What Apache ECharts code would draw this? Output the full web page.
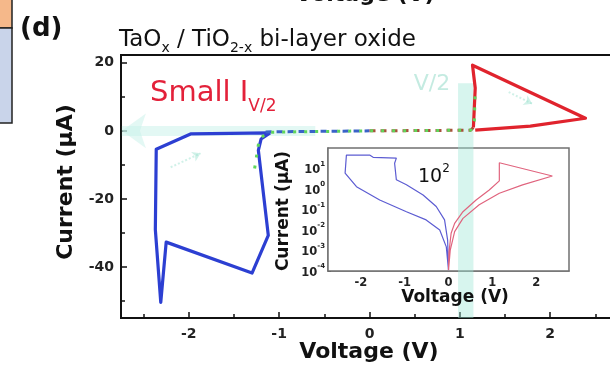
<!DOCTYPE html>
<html><head><meta charset="utf-8">
<script src="https://cdn.jsdelivr.net/npm/echarts@6/dist/echarts.min.js"></script>
<style>html,body{margin:0;padding:0;background:#fff}#c{width:610px;height:369px}</style>
</head><body><div id="c"></div>
<script>
// ---------- data ----------
const mainXTicks = [-2, -1, 0, 1, 2];
const mainXMinor = [-2.5, -1.5, -0.5, 0.5, 1.5, 2.5];
const mainYTicks = [20, 0, -20, -40];
const mainYMinor = [10, -10, -30, -50];
const insetXTicks = [-2, -1, 0, 1, 2];
const insetXMinor = [-2.5, -1.5, -0.5, 0.5, 1.5, 2.5];
const insetYTicks = [1e-4, 1e-3, 1e-2, 1e-1, 1, 10, 100];

// main I-V (voltage V, current uA)
const blueLoop = [[-1.10,-0.6],[-1.98,-0.9],[-2.36,-5.4],[-2.37,-29],[-2.31,-50.4],[-2.25,-32.7],[-1.30,-41.8],[-1.12,-30.7],[-1.23,-5.7],[-1.20,-2.4],[-1.10,-0.6]];
const blueDash = [[-1.15,-0.3],[0,0]];
const redDash = [[0,0],[1.12,0.2],[1.15,1.0]];
const redLoop = [[1.15,1.0],[1.17,12.6],[1.14,19.3],[2.39,3.7],[1.78,1.4],[1.17,0.2]];
const greenDots = [[-1.28,-12.5],[-1.22,-2.4],[-1.12,-0.4],[0,0],[1.12,0.2],[1.16,3],[1.17,12]];
const bandV = [0.98, 1.15];
const bandI = [14, -55];
const bigArrow = [[-0.6, 0], [-2.74, 0]];
const loopArrowBlue = [[-2.2, -10.7], [-1.87, -6.6]];
const loopArrowRed = [[1.54, 11.4], [1.80, 8.0]];

// inset (log current)
const insetBlue = [[0,1.1e-4],[-0.05,0.0015],[-0.2,0.01],[-0.51,0.031],[-0.96,0.078],[-1.57,0.29],[-2.10,1.3],[-2.36,5.9],[-2.33,45],[-1.80,45],[-1.72,35],[-1.19,32],[-1.23,18],[-1.19,2.8],[-0.96,1.6],[-0.58,0.51],[-0.28,0.14],[-0.09,0.031],[-0.02,0.0032],[0,1.1e-4]];
const insetRed = [[0,1.1e-4],[0.01,0.0008],[0.06,0.0069],[0.14,0.021],[0.33,0.078],[0.63,0.29],[0.93,0.89],[1.16,2.5],[1.16,19],[2.37,4.3],[1.69,1.6],[1.16,0.62],[0.70,0.17],[0.33,0.037],[0.14,0.0083],[0.04,0.00105],[0,1.1e-4]];

// ---------- chart ----------
const F = 'DejaVu Sans';
const chart = echarts.init(document.getElementById('c'), null, {renderer: 'canvas'});
const lineBase = {type: 'line', showSymbol: false, symbol: 'none', animation: false, silent: true, clip: false};
const XMIN = -2.75, XMAX = 2.75;

const option = {
  animation: false,
  backgroundColor: '#fff',
  grid: [
    {left: 121, top: 55, width: 497, height: 263, outerBoundsMode: 'none', containLabel: false, show: true, borderColor: '#111', borderWidth: 2, backgroundColor: 'transparent'},
    {left: 328, top: 148, width: 241, height: 123, outerBoundsMode: 'none', containLabel: false, show: true, borderColor: '#707070', borderWidth: 1.5, backgroundColor: '#fff', z: 1}
  ],
  xAxis: [
    {gridIndex: 0, type: 'value', min: XMIN, max: XMAX, position: 'bottom',
      axisLine: {show: true, onZero: false, lineStyle: {color: '#111', width: 2}},
      axisTick: {show: true, inside: true, length: 6, customValues: mainXTicks, lineStyle: {color: '#111', width: 1.5}},
      axisLabel: {customValues: mainXTicks, margin: 9, fontFamily: F, fontWeight: 'bold', fontSize: 14, color: '#222'},
      splitLine: {show: false}},
    {gridIndex: 0, type: 'value', min: XMIN, max: XMAX, position: 'bottom',
      axisLine: {show: false, onZero: false},
      axisTick: {show: true, inside: true, length: 4, customValues: mainXMinor, lineStyle: {color: '#111', width: 1.5}},
      axisLabel: {show: false}, splitLine: {show: false}},
    {gridIndex: 1, type: 'value', min: -2.75, max: 2.75, position: 'bottom',
      axisLine: {show: true, onZero: false, lineStyle: {color: '#707070', width: 1.5}},
      axisTick: {show: true, inside: true, length: 4, customValues: insetXTicks, lineStyle: {color: '#555', width: 1}},
      axisLabel: {customValues: insetXTicks, margin: 6, fontFamily: F, fontWeight: 'bold', fontSize: 11.5, color: '#222'},
      splitLine: {show: false}},
    {gridIndex: 1, type: 'value', min: -2.75, max: 2.75, position: 'bottom',
      axisLine: {show: false, onZero: false},
      axisTick: {show: true, inside: true, length: 2.5, customValues: insetXMinor, lineStyle: {color: '#555', width: 1}},
      axisLabel: {show: false}, splitLine: {show: false}}
  ],
  yAxis: [
    {gridIndex: 0, type: 'value', min: -55, max: 22.3, position: 'left',
      axisLine: {show: true, onZero: false, lineStyle: {color: '#111', width: 2}},
      axisTick: {show: true, inside: true, length: 6, customValues: mainYTicks, lineStyle: {color: '#111', width: 1.5}},
      axisLabel: {customValues: mainYTicks, margin: 7, fontFamily: F, fontWeight: 'bold', fontSize: 14, color: '#222'},
      splitLine: {show: false}},
    {gridIndex: 0, type: 'value', min: -55, max: 22.3, position: 'left',
      axisLine: {show: false, onZero: false},
      axisTick: {show: true, inside: true, length: 4, customValues: mainYMinor, lineStyle: {color: '#111', width: 1.5}},
      axisLabel: {show: false}, splitLine: {show: false}},
    {gridIndex: 1, type: 'log', logBase: 10, min: 1e-4, max: 100, position: 'left',
      axisLine: {show: true, onZero: false, lineStyle: {color: '#707070', width: 1.5}},
      axisTick: {show: true, inside: true, length: 3, customValues: insetYTicks, lineStyle: {color: '#555', width: 1}},
      axisLabel: {customValues: insetYTicks.slice(0, 6), margin: 3, color: '#222',
        formatter: function (v) { const e = Math.round(Math.log10(v)); return '{b|10}{s|' + e + '}'; },
        rich: {b: {fontFamily: F, fontWeight: 'bold', fontSize: 11.5, lineHeight: 16, verticalAlign: 'bottom'},
               s: {fontFamily: F, fontWeight: 'bold', fontSize: 7, lineHeight: 16, verticalAlign: 'top'}}},
      splitLine: {show: false}}
  ],
  series: [
    Object.assign({}, lineBase, {name: 'band', xAxisIndex: 0, yAxisIndex: 0, data: [], z: 5,
      markArea: {silent: true, itemStyle: {color: 'rgba(160,232,214,0.42)'},
        data: [[{coord: [bandV[0], bandI[0]]}, {coord: [bandV[1], bandI[1]]}]]}}),
    Object.assign({}, lineBase, {name: 'bigArrow', xAxisIndex: 0, yAxisIndex: 0, data: [], z: 2,
      markLine: {silent: true, symbol: ['none', 'arrow'], symbolSize: [26, 24], label: {show: false},
        lineStyle: {color: 'rgba(200,242,234,0.5)', width: 10, type: 'solid', opacity: 1},
        data: [[{coord: bigArrow[0]}, {coord: bigArrow[1]}]]}}),
    Object.assign({}, lineBase, {name: 'loopArrows', xAxisIndex: 0, yAxisIndex: 0, data: [], z: 2,
      markLine: {silent: true, symbol: ['none', 'arrow'], symbolSize: [8, 8], label: {show: false},
        lineStyle: {color: 'rgba(150,225,205,0.45)', width: 2, type: 'dotted'},
        data: [[{coord: loopArrowBlue[0]}, {coord: loopArrowBlue[1]}], [{coord: loopArrowRed[0]}, {coord: loopArrowRed[1]}]]}}),
    Object.assign({}, lineBase, {name: 'blueLoop', xAxisIndex: 0, yAxisIndex: 0, data: blueLoop, z: 6,
      lineStyle: {color: '#2c3fd2', width: 3.2, join: 'round'}}),
    Object.assign({}, lineBase, {name: 'blueDash', xAxisIndex: 0, yAxisIndex: 0, data: blueDash, z: 6,
      lineStyle: {color: '#3a63c8', width: 3, type: [6, 5]}}),
    Object.assign({}, lineBase, {name: 'redDash', xAxisIndex: 0, yAxisIndex: 0, data: redDash, z: 6,
      lineStyle: {color: '#a8503c', width: 3, type: [6, 5]}}),
    Object.assign({}, lineBase, {name: 'redLoop', xAxisIndex: 0, yAxisIndex: 0, data: redLoop, z: 6,
      lineStyle: {color: '#e0232d', width: 3.2, join: 'round'}}),
    Object.assign({}, lineBase, {name: 'green', xAxisIndex: 0, yAxisIndex: 0, data: greenDots, z: 7,
      lineStyle: {color: '#5fd65a', width: 3, type: [3, 8], dashOffset: 6}}),
    Object.assign({}, lineBase, {name: 'insetBlue', xAxisIndex: 2, yAxisIndex: 2, data: insetBlue, z: 6, clip: true,
      lineStyle: {color: '#5c5cd2', width: 1.2}}),
    Object.assign({}, lineBase, {name: 'insetRed', xAxisIndex: 2, yAxisIndex: 2, data: insetRed, z: 6, clip: true,
      lineStyle: {color: '#e0647e', width: 1.2}})
  ],
  graphic: [
    {type: 'rect', z: 50, shape: {x: -2, y: -2, width: 14, height: 30}, style: {fill: '#f5b88a', stroke: '#222', lineWidth: 1.5}},
    {type: 'rect', z: 50, shape: {x: -2, y: 28, width: 14, height: 95}, style: {fill: '#c9d4ea', stroke: '#222', lineWidth: 1.5}},
    {type: 'text', z: 50, x: 20, y: 29, style: {text: '(d)', font: 'bold 26px "DejaVu Sans"', fill: '#111', textAlign: 'left', textVerticalAlign: 'middle'}},
    {type: 'text', z: 50, x: 365, y: -5, style: {text: 'Voltage (V)', font: 'bold 22px "DejaVu Sans"', fill: '#111', textAlign: 'center', textVerticalAlign: 'middle'}},
    {type: 'text', z: 50, x: 119, y: 42, style: {text: '{n|TaO}{s|x}{n| / TiO}{s|2-x}{n| bi-layer oxide}', textAlign: 'left', textVerticalAlign: 'middle', fill: '#111',
      rich: {n: {fontFamily: F, fontSize: 23, lineHeight: 27, verticalAlign: 'top', fill: '#111'},
             s: {fontFamily: F, fontSize: 14, lineHeight: 27, verticalAlign: 'bottom', fill: '#111'}}}},
    {type: 'text', z: 50, x: 150, y: 97, style: {text: '{n|Small I}{s|V/2}', textAlign: 'left', textVerticalAlign: 'middle',
      rich: {n: {fontFamily: F, fontSize: 29, lineHeight: 36, verticalAlign: 'top', fill: '#e3213a'},
             s: {fontFamily: F, fontSize: 17, lineHeight: 36, verticalAlign: 'bottom', fill: '#e3213a'}}}},
    {type: 'text', z: 50, x: 432, y: 84, style: {text: 'V/2', font: '22px "DejaVu Sans"', fill: '#c4ebe1', textAlign: 'center', textVerticalAlign: 'middle'}},
    {type: 'text', z: 50, x: 66, y: 182, rotation: Math.PI / 2, style: {text: 'Current (\u03bcA)', font: 'bold 22px "DejaVu Sans"', fill: '#111', textAlign: 'center', textVerticalAlign: 'middle'}},
    {type: 'text', z: 50, x: 369, y: 352, style: {text: 'Voltage (V)', font: 'bold 22px "DejaVu Sans"', fill: '#111', textAlign: 'center', textVerticalAlign: 'middle'}},
    {type: 'text', z: 50, x: 284, y: 211, rotation: Math.PI / 2, style: {text: 'Current (\u03bcA)', font: 'bold 17px "DejaVu Sans"', fill: '#111', textAlign: 'center', textVerticalAlign: 'middle'}},
    {type: 'text', z: 50, x: 455, y: 298, style: {text: 'Voltage (V)', font: 'bold 17px "DejaVu Sans"', fill: '#111', textAlign: 'center', textVerticalAlign: 'middle'}},
    {type: 'text', z: 50, x: 418, y: 175, style: {text: '{n|10}{s|2}', textAlign: 'left', textVerticalAlign: 'middle',
      rich: {n: {fontFamily: F, fontSize: 19, lineHeight: 24, verticalAlign: 'bottom', fill: '#111'},
             s: {fontFamily: F, fontSize: 12, lineHeight: 24, verticalAlign: 'top', fill: '#111'}}}}
  ]
};
chart.setOption(option);
</script>
</body></html>
